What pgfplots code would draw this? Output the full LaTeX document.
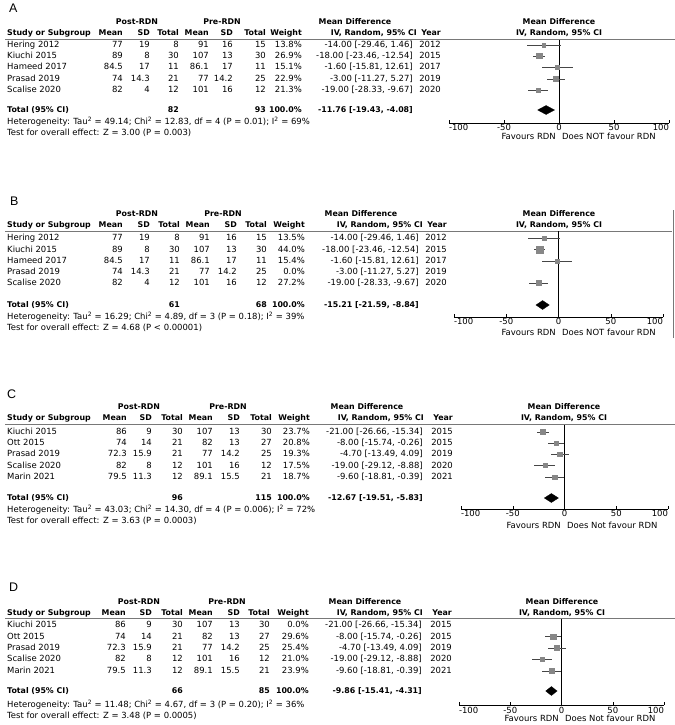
\documentclass[border=0pt]{standalone}
\usepackage{pgfplots}
\pgfplotsset{compat=1.18}
\usepackage{pgfplotstable}
\usepackage{fontspec}
\setmainfont{DejaVu Sans}
\newfontfamily\labfont{Liberation Sans}
\definecolor{mkgray}{RGB}{135,135,135}
\definecolor{cigray}{RGB}{70,70,70}
\definecolor{hline}{RGB}{120,120,120}
\newcommand\tf{\fontsize{8.5}{9}\selectfont}
\newcommand\bfs{\fontsize{7.9}{9}\selectfont\bfseries}
\newcommand\T[3]{\node[anchor=mid west] at (#1,#2) {#3};}
\newcommand\R[3]{\node[anchor=mid east] at (#1,#2) {#3};}
\newcommand\C[3]{\node[anchor=mid] at (#1,#2) {#3};}
\newcommand\rowL[9]{\T{\cS}{#1}{#2}\R{\cA}{#1}{#3}\R{\cB}{#1}{#4}\R{\cC}{#1}{#5}\R{\cD}{#1}{#6}\R{\cE}{#1}{#7}\R{\cF}{#1}{#8}\R{\cW}{#1}{#9}}
\newcommand\rowR[3]{\R{\cM}{#1}{#2}\R{\cY}{#1}{#3}}
% header: y1 y2 postc prec mdc forestc ivright
\newcommand\hdr[7]{%
 \C{#3}{#1}{\bfs Post-RDN}\C{#4}{#1}{\bfs Pre-RDN}\C{#5}{#1}{\bfs Mean Difference}\C{#6}{#1}{\bfs Mean Difference}%
 \T{\cS}{#2}{\bfs Study or Subgroup}\R{\cA}{#2}{\bfs Mean}\R{\cB}{#2}{\bfs SD}\R{\cC}{#2}{\bfs Total}%
 \R{\cD}{#2}{\bfs Mean}\R{\cE}{#2}{\bfs SD}\R{\cF}{#2}{\bfs Total}\R{\cW}{#2}{\bfs Weight}%
 \R{#7}{#2}{\bfs IV, Random, 95\% CI}\R{\cY}{#2}{\bfs Year}\C{#6}{#2}{\bfs IV, Random, 95\% CI}}
\newcommand\sq{\textsuperscript{2}}
\pgfplotsset{forest/.style={scale only axis, axis x line*=bottom, axis y line=none,
  xmin=-100, xmax=100, xtick={-100,-50,0,50,100},
  xticklabels={\makebox[0pt][l]{-100},-50,0,50,\makebox[0pt][r]{100}},
  xtick align=inside, major tick length=3bp, tick style={black, line width=0.5bp},
  axis line style={black, line width=0.6bp},
  xticklabel style={font=\tf, inner sep=0pt, yshift=-1.5bp},
  clip=false, anchor=south west},
  studies/.style={scatter, only marks, mark=square*, point meta=\thisrow{w},
  scatter/use mapped color={draw=mkgray, fill=mkgray},
  visualization depends on={0.5*sqrt(\thisrow{w}) \as \ms},
  scatter/@pre marker code/.append style={/tikz/mark size=\ms},
  error bars/x dir=both, error bars/x explicit, error bars/error mark=none,
  error bars/error bar style={cigray, line width=0.7bp}}}

% forest data: y = row position (px from top), md, lo, hi, weight
\pgfplotstableread{
y md lo hi w
45 -14.00 -29.46 1.46 13.8
56 -18.00 -23.46 -12.54 26.9
67 -1.60 -15.81 12.61 15.1
79 -3.00 -11.27 5.27 22.9
90 -19.00 -28.33 -9.67 21.3
}\forestA
\pgfplotstableread{
y md lo hi w
238 -14.00 -29.46 1.46 13.5
249.5 -18.00 -23.46 -12.54 44.0
261 -1.60 -15.81 12.61 15.4
283 -19.00 -28.33 -9.67 27.2
}\forestB
\pgfplotstableread{
y md lo hi w
432 -21.00 -26.66 -15.34 23.7
443 -8.00 -15.74 -0.26 20.8
454 -4.70 -13.49 4.09 19.3
465.5 -19.00 -29.12 -8.88 17.5
477 -9.60 -18.81 -0.39 18.7
}\forestC
\pgfplotstableread{
y md lo hi w
636.5 -8.00 -15.74 -0.26 29.6
648 -4.70 -13.49 4.09 25.4
659 -19.00 -29.12 -8.88 21.0
671 -9.60 -18.81 -0.39 23.9
}\forestD

\begin{document}
\begin{tikzpicture}[x=1bp, y=-1bp, every node/.style={inner sep=0pt, font=\tf}]
\useasboundingbox (0,0) rectangle (675,725);
% ================= A =================
\node[anchor=base west, font=\labfont\fontsize{12.5}{13}\selectfont] at (9,12.3) {A};
\def\cS{7}\def\cA{123}\def\cB{150}\def\cC{179}\def\cD{209}\def\cE{233}\def\cF{266}\def\cW{302}\def\cM{413}\def\cY{441}
\hdr{22}{33}{137}{222}{355}{559}{417}
\draw[hline, line width=0.8bp] (5,39.5) -- (675,39.5);
\rowL{45}{Hering 2012}{77}{19}{8}{91}{16}{15}{13.8\%}\rowR{45}{-14.00 [-29.46, 1.46]}{2012}
\rowL{56}{Kiuchi 2015}{89}{8}{30}{107}{13}{30}{26.9\%}\rowR{56}{-18.00 [-23.46, -12.54]}{2015}
\rowL{67}{Hameed 2017}{84.5}{17}{11}{86.1}{17}{11}{15.1\%}\rowR{67}{-1.60 [-15.81, 12.61]}{2017}
\rowL{79}{Prasad 2019}{74}{14.3}{21}{77}{14.2}{25}{22.9\%}\rowR{79}{-3.00 [-11.27, 5.27]}{2019}
\rowL{90}{Scalise 2020}{82}{4}{12}{101}{16}{12}{21.3\%}\rowR{90}{-19.00 [-28.33, -9.67]}{2020}
\T{\cS}{110}{\bfs Total (95\% CI)}\R{\cC}{110}{\bfs 82}\R{\cF}{110}{\bfs 93}\R{\cW}{110}{\bfs 100.0\%}\R{\cM}{110}{\bfs -11.76 [-19.43, -4.08]}
\T{\cS}{122}{Heterogeneity: Tau\sq{} = 49.14; Chi\sq{} = 12.83, df = 4 (P = 0.01); I\sq{} = 69\%}
\T{\cS}{133}{Test for overall effect: Z = 3.00 (P = 0.003)}
\begin{axis}[forest, width=220bp, height=83.5bp, ymin=-123, ymax=-39.5, at={(449bp,-123bp)}]
\addplot[black, line width=0.6bp] coordinates {(0,-123) (0,-39.5)};
\addplot[studies] table[x=md, y expr=-\thisrow{y}, x error plus expr=\thisrow{hi}-\thisrow{md}, x error minus expr=\thisrow{md}-\thisrow{lo}] {\forestA};
\addplot[fill=black, draw=black, line width=0.3bp] coordinates {(-19.43,-110) (-11.76,-105.5) (-4.08,-110) (-11.76,-114.5)} -- cycle;
\end{axis}
\node[anchor=mid east] at (556,137) {Favours RDN};
\node[anchor=mid west] at (562,137) {Does NOT favour RDN};
% ================= B =================
\node[anchor=base west, font=\labfont\fontsize{12.5}{13}\selectfont] at (10,205.5) {B};
\def\cS{7}\def\cA{123}\def\cB{150}\def\cC{180}\def\cD{210}\def\cE{237}\def\cF{267}\def\cW{305}\def\cM{419}\def\cY{447}
\hdr{213.5}{224.5}{137}{223}{361}{559}{423}
\draw[hline, line width=0.8bp] (5,231) -- (672,231);
\draw[hline, line width=0.8bp] (673,210) -- (673,338);
\rowL{238}{Hering 2012}{77}{19}{8}{91}{16}{15}{13.5\%}\rowR{238}{-14.00 [-29.46, 1.46]}{2012}
\rowL{249.5}{Kiuchi 2015}{89}{8}{30}{107}{13}{30}{44.0\%}\rowR{249.5}{-18.00 [-23.46, -12.54]}{2015}
\rowL{261}{Hameed 2017}{84.5}{17}{11}{86.1}{17}{11}{15.4\%}\rowR{261}{-1.60 [-15.81, 12.61]}{2017}
\rowL{272}{Prasad 2019}{74}{14.3}{21}{77}{14.2}{25}{0.0\%}\rowR{272}{-3.00 [-11.27, 5.27]}{2019}
\rowL{283}{Scalise 2020}{82}{4}{12}{101}{16}{12}{27.2\%}\rowR{283}{-19.00 [-28.33, -9.67]}{2020}
\T{\cS}{305}{\bfs Total (95\% CI)}\R{\cC}{305}{\bfs 61}\R{\cF}{305}{\bfs 68}\R{\cW}{305}{\bfs 100.0\%}\R{\cM}{305}{\bfs -15.21 [-21.59, -8.84]}
\T{\cS}{317}{Heterogeneity: Tau\sq{} = 16.29; Chi\sq{} = 4.89, df = 3 (P = 0.18); I\sq{} = 39\%}
\T{\cS}{327.5}{Test for overall effect: Z = 4.68 (P < 0.00001)}
\begin{axis}[forest, width=209bp, height=86bp, ymin=-317, ymax=-231, at={(454bp,-317bp)}]
\addplot[black, line width=0.6bp] coordinates {(0,-317) (0,-231)};
\addplot[studies] table[x=md, y expr=-\thisrow{y}, x error plus expr=\thisrow{hi}-\thisrow{md}, x error minus expr=\thisrow{md}-\thisrow{lo}] {\forestB};
\addplot[fill=black, draw=black, line width=0.3bp] coordinates {(-21.59,-305) (-15.21,-300.5) (-8.84,-305) (-15.21,-309.5)} -- cycle;
\end{axis}
\node[anchor=mid east] at (556,333) {Favours RDN};
\node[anchor=mid west] at (562,333) {Does NOT favour RDN};
% ================= C =================
\node[anchor=base west, font=\labfont\fontsize{12.5}{13}\selectfont] at (7,398.5) {C};
\def\cS{7}\def\cA{127}\def\cB{152}\def\cC{183}\def\cD{213}\def\cE{240}\def\cF{272}\def\cW{310}\def\cM{423}\def\cY{453}
\hdr{407}{418}{139}{228}{367}{564}{424}
\draw[hline, line width=0.8bp] (5,424.5) -- (675,424.5);
\rowL{432}{Kiuchi 2015}{86}{9}{30}{107}{13}{30}{23.7\%}\rowR{432}{-21.00 [-26.66, -15.34]}{2015}
\rowL{443}{Ott 2015}{74}{14}{21}{82}{13}{27}{20.8\%}\rowR{443}{-8.00 [-15.74, -0.26]}{2015}
\rowL{454}{Prasad 2019}{72.3}{15.9}{21}{77}{14.2}{25}{19.3\%}\rowR{454}{-4.70 [-13.49, 4.09]}{2019}
\rowL{465.5}{Scalise 2020}{82}{8}{12}{101}{16}{12}{17.5\%}\rowR{465.5}{-19.00 [-29.12, -8.88]}{2020}
\rowL{477}{Marin 2021}{79.5}{11.3}{12}{89.1}{15.5}{21}{18.7\%}\rowR{477}{-9.60 [-18.81, -0.39]}{2021}
\T{\cS}{498}{\bfs Total (95\% CI)}\R{\cC}{498}{\bfs 96}\R{\cF}{498}{\bfs 115}\R{\cW}{498}{\bfs 100.0\%}\R{\cM}{498}{\bfs -12.67 [-19.51, -5.83]}
\T{\cS}{510}{Heterogeneity: Tau\sq{} = 43.03; Chi\sq{} = 14.30, df = 4 (P = 0.006); I\sq{} = 72\%}
\T{\cS}{520.5}{Test for overall effect: Z = 3.63 (P = 0.0003)}
\begin{axis}[forest, width=207bp, height=84.5bp, ymin=-509, ymax=-424.5, at={(461bp,-509bp)}]
\addplot[black, line width=0.6bp] coordinates {(0,-509) (0,-424.5)};
\addplot[studies] table[x=md, y expr=-\thisrow{y}, x error plus expr=\thisrow{hi}-\thisrow{md}, x error minus expr=\thisrow{md}-\thisrow{lo}] {\forestC};
\addplot[fill=black, draw=black, line width=0.3bp] coordinates {(-19.51,-498) (-12.67,-493.5) (-5.83,-498) (-12.67,-502.5)} -- cycle;
\end{axis}
\node[anchor=mid east] at (561,526) {Favours RDN};
\node[anchor=mid west] at (567,526) {Does Not favour RDN};
% ================= D =================
\node[anchor=base west, font=\labfont\fontsize{12.5}{13}\selectfont] at (9,591.5) {D};
\def\cS{7}\def\cA{126}\def\cB{152}\def\cC{183}\def\cD{213}\def\cE{240}\def\cF{270}\def\cW{309}\def\cM{422}\def\cY{452}
\hdr{602}{613}{139}{227}{365}{562}{423}
\draw[hline, line width=0.8bp] (5,618.5) -- (675,618.5);
\rowL{625}{Kiuchi 2015}{86}{9}{30}{107}{13}{30}{0.0\%}\rowR{625}{-21.00 [-26.66, -15.34]}{2015}
\rowL{636.5}{Ott 2015}{74}{14}{21}{82}{13}{27}{29.6\%}\rowR{636.5}{-8.00 [-15.74, -0.26]}{2015}
\rowL{648}{Prasad 2019}{72.3}{15.9}{21}{77}{14.2}{25}{25.4\%}\rowR{648}{-4.70 [-13.49, 4.09]}{2019}
\rowL{659}{Scalise 2020}{82}{8}{12}{101}{16}{12}{21.0\%}\rowR{659}{-19.00 [-29.12, -8.88]}{2020}
\rowL{671}{Marin 2021}{79.5}{11.3}{12}{89.1}{15.5}{21}{23.9\%}\rowR{671}{-9.60 [-18.81, -0.39]}{2021}
\T{\cS}{691}{\bfs Total (95\% CI)}\R{\cC}{691}{\bfs 66}\R{\cF}{691}{\bfs 85}\R{\cW}{691}{\bfs 100.0\%}\R{\cM}{691}{\bfs -9.86 [-15.41, -4.31]}
\T{\cS}{705}{Heterogeneity: Tau\sq{} = 11.48; Chi\sq{} = 4.67, df = 3 (P = 0.20); I\sq{} = 36\%}
\T{\cS}{716}{Test for overall effect: Z = 3.48 (P = 0.0005)}
\begin{axis}[forest, width=205bp, height=86.5bp, ymin=-705, ymax=-618.5, at={(459bp,-705bp)}]
\addplot[black, line width=0.6bp] coordinates {(0,-705) (0,-618.5)};
\addplot[studies] table[x=md, y expr=-\thisrow{y}, x error plus expr=\thisrow{hi}-\thisrow{md}, x error minus expr=\thisrow{md}-\thisrow{lo}] {\forestD};
\addplot[fill=black, draw=black, line width=0.3bp] coordinates {(-15.41,-691) (-9.86,-686.5) (-4.31,-691) (-9.86,-695.5)} -- cycle;
\end{axis}
\node[anchor=mid east] at (559,719) {Favours RDN};
\node[anchor=mid west] at (565,719) {Does Not favour RDN};
\end{tikzpicture}
\end{document}
